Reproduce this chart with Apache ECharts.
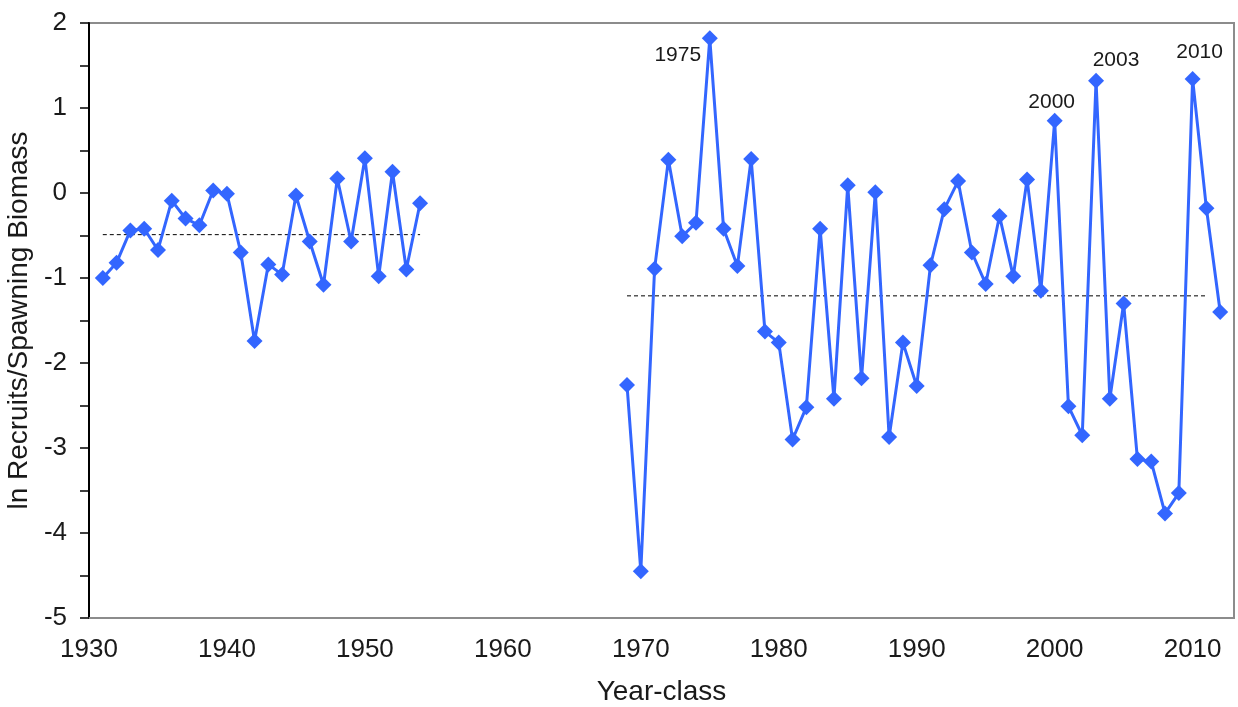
<!DOCTYPE html>
<html>
<head>
<meta charset="utf-8">
<title>ln Recruits/Spawning Biomass by Year-class</title>
<script src="https://cdn.jsdelivr.net/npm/echarts@6/dist/echarts.min.js"></script>
<style>
  html, body { margin: 0; padding: 0; background: #ffffff; }
  #chart { width: 1238px; height: 707px; }
</style>
</head>
<body>
<div id="chart"></div>
<script>
// Early period year-classes and ln(recruits / spawning biomass)
const earlyYears = [1931, 1932, 1933, 1934, 1935, 1936, 1937, 1938, 1939, 1940, 1941, 1942,
                    1943, 1944, 1945, 1946, 1947, 1948, 1949, 1950, 1951, 1952, 1953, 1954];
const earlyValues = [-1.00, -0.82, -0.44, -0.42, -0.67, -0.09, -0.30, -0.38, 0.03, -0.01, -0.70, -1.74,
                     -0.84, -0.96, -0.03, -0.57, -1.08, 0.17, -0.57, 0.41, -0.98, 0.25, -0.90, -0.12];

// Recent period year-classes and ln(recruits / spawning biomass)
const lateYears = [1969, 1970, 1971, 1972, 1973, 1974, 1975, 1976, 1977, 1978, 1979, 1980,
                   1981, 1982, 1983, 1984, 1985, 1986, 1987, 1988, 1989, 1990, 1991, 1992,
                   1993, 1994, 1995, 1996, 1997, 1998, 1999, 2000, 2001, 2002, 2003, 2004,
                   2005, 2006, 2007, 2008, 2009, 2010, 2011, 2012];
const lateValues = [-2.26, -4.45, -0.89, 0.39, -0.51, -0.35, 1.82, -0.42, -0.86, 0.40, -1.63, -1.76,
                    -2.90, -2.52, -0.42, -2.42, 0.09, -2.18, 0.01, -2.87, -1.76, -2.27, -0.85, -0.19,
                    0.14, -0.70, -1.07, -0.27, -0.98, 0.16, -1.15, 0.85, -2.51, -2.85, 1.32, -2.42,
                    -1.30, -3.13, -3.16, -3.77, -3.53, 1.34, -0.18, -1.40];

// Period means, drawn as dashed reference lines
const earlyMean = -0.49;
const earlyMeanSpan = [1931, 1954];
const lateMean = -1.21;
const lateMeanSpan = [1969, 2011];

// Year-classes labelled on the chart
const labelledYears = [1975, 2000, 2003, 2010];

// Axis settings
const xTicks = { min: 1930, max: 2013, interval: 10 };
const yTicks = { min: -5, max: 2, interval: 1 };

const labelOffsets = {
  1975: [-32, 17],
  2000: [-3, -19],
  2003: [20, -21],
  2010: [7, -27]
};

const BLUE = '#3366ff';
const FONT = 'Liberation Sans, Arial, sans-serif';
const TEXT = '#1a1a1a';

function buildSeriesData(years, values) {
  return years.map((yr, i) => {
    const item = { value: [yr, values[i]] };
    if (labelledYears.includes(yr)) {
      item.label = {
        show: true,
        position: 'inside',
        formatter: String(yr),
        offset: labelOffsets[yr],
        color: TEXT,
        fontSize: 21,
        fontFamily: FONT
      };
    }
    return item;
  });
}

const lineSeriesStyle = {
  type: 'line',
  symbol: 'diamond',
  symbolSize: [16, 16],
  lineStyle: { color: BLUE, width: 3 },
  itemStyle: { color: BLUE },
  z: 3
};

const meanLine = (span, mean) => ({
  type: 'line',
  data: [[span[0], mean], [span[1], mean]],
  symbol: 'none',
  lineStyle: { color: '#000000', width: 1, type: [4, 3] },
  silent: true,
  z: 2
});

const chart = echarts.init(document.getElementById('chart'), null, { renderer: 'canvas' });

chart.setOption({
  animation: false,
  backgroundColor: '#ffffff',
  grid: {
    left: 89, top: 23, right: 4, bottom: 89,
    containLabel: false,
    outerBoundsMode: 'none',
    show: true,
    borderColor: '#8c8c8c',
    borderWidth: 2
  },
  xAxis: {
    type: 'value',
    min: xTicks.min,
    max: xTicks.max,
    interval: xTicks.interval,
    name: 'Year-class',
    nameLocation: 'middle',
    nameGap: 60,
    nameTextStyle: { color: TEXT, fontSize: 28, fontFamily: FONT },
    axisLine: { show: true, onZero: false, lineStyle: { color: '#8c8c8c', width: 2 } },
    axisTick: { show: false },
    splitLine: { show: false },
    axisLabel: {
      color: TEXT, fontSize: 26, fontFamily: FONT, margin: 19,
      showMaxLabel: false,
      formatter: v => (v % 10 === 0 ? String(v) : '')
    }
  },
  yAxis: {
    type: 'value',
    min: yTicks.min,
    max: yTicks.max,
    interval: yTicks.interval,
    name: 'ln Recruits/Spawning Biomass',
    nameLocation: 'middle',
    nameGap: 53,
    nameTextStyle: { color: TEXT, fontSize: 28, fontFamily: FONT },
    axisLine: { show: true, onZero: false, lineStyle: { color: '#000000', width: 2 } },
    axisTick: { show: true, inside: false, length: 9, lineStyle: { color: '#000000', width: 1.5 } },
    minorTick: { show: true, splitNumber: 2, length: 9, lineStyle: { color: '#000000', width: 1.5 } },
    splitLine: { show: false },
    minorSplitLine: { show: false },
    axisLabel: { color: TEXT, fontSize: 26, fontFamily: FONT, margin: 22 }
  },
  series: [
    meanLine(earlyMeanSpan, earlyMean),
    meanLine(lateMeanSpan, lateMean),
    Object.assign({ name: 'early', data: buildSeriesData(earlyYears, earlyValues) }, lineSeriesStyle),
    Object.assign({ name: 'late', data: buildSeriesData(lateYears, lateValues) }, lineSeriesStyle)
  ]
});
</script>
</body>
</html>
